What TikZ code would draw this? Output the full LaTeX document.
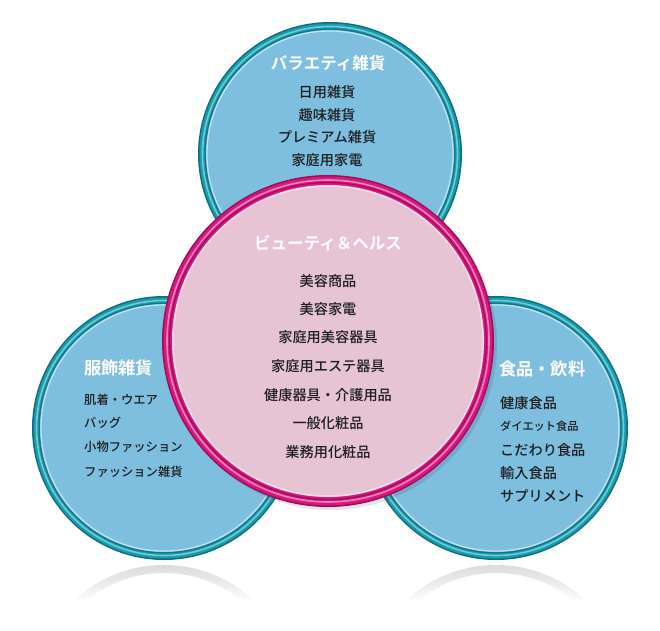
\documentclass[tikz,border=0pt]{standalone}
\usepackage{fontspec}
\newfontfamily\jp{Noto Sans CJK JP Medium}
\newfontfamily\jpb{Noto Sans CJK JP Bold}
\definecolor{tealdark}{HTML}{0D6F7E}
\definecolor{tealmid}{HTML}{1B9AAC}
\definecolor{teallight}{HTML}{6BCBD8}
\definecolor{bluefill}{HTML}{7EBFE0}
\definecolor{pinkdark}{HTML}{9E0C57}
\definecolor{pinkmid}{HTML}{D2197F}
\definecolor{pinklight}{HTML}{F27DB8}
\definecolor{pinkfill}{HTML}{E7C4D4}
\definecolor{itemtext}{HTML}{1E1E1E}
\tikzset{
  titletext/.style={font=\jpb\fontsize{16.5}{19}\selectfont, text=white, inner sep=0pt},
  bigtitle/.style={font=\jpb\fontsize{17.2}{20}\selectfont, text=white, inner sep=0pt},
  itemtext/.style={font=\jp\fontsize{14.2}{17}\selectfont, text=itemtext, inner sep=0pt},
  leftitem/.style={font=\jp\fontsize{12.3}{15}\selectfont, text=itemtext, inner sep=0pt},
  smallitem/.style={font=\jp\fontsize{11.2}{14}\selectfont, text=itemtext, inner sep=0pt},
  pics/tealdisc/.style={code={
    \fill[tealdark] (0,0) circle (132pt);
    \fill[tealmid] (0,0) circle (130.5pt);
    \draw[teallight, line width=1.6pt] (0,0) circle (127.5pt);
    \fill[tealdark!80!tealmid] (0,0) circle (125.5pt);
    \fill[bluefill] (0,0) circle (124pt);
    \draw[white!55!bluefill, line width=1.2pt] (0,0) circle (123pt);
  }},
  pics/pinkdisc/.style={code={
    \fill[pinkdark] (0,0) circle (166pt);
    \fill[pinkmid] (0,0) circle (164.5pt);
    \draw[pinklight, line width=1.6pt] (0,0) circle (161pt);
    \fill[pinkdark] (0,0) circle (159pt);
    \fill[pinkmid] (0,0) circle (157.8pt);
    \fill[pinkfill] (0,0) circle (156pt);
    \draw[white!50!pinkfill, line width=1.2pt] (0,0) circle (155pt);
  }}
}
\begin{document}
\begin{tikzpicture}[x=1pt,y=-1pt]
\useasboundingbox (0,0) rectangle (660,630);
\fill[white] (0,0) rectangle (660,630);
% reflections
\foreach \cx in {164,496} {
  \begin{scope}[even odd rule]
    \clip (\cx,697) circle (132pt) (\cx,697) circle (124pt);
    \shade[top color=gray!30, bottom color=white] (\cx-140,563) rectangle (\cx+140,602);
  \end{scope}
}
% discs
\pic at (330,154) {tealdisc};
\pic at (164,428) {tealdisc};
\pic at (496,428) {tealdisc};
\fill[black, opacity=0.10] (331,344) circle (166pt);
\pic at (328,341) {pinkdisc};

% top circle texts
\node[titletext] (vtitle) at (328,63) {バラエティ雑貨};
\node[itemtext] (v1) at (327,92) {日用雑貨};
\node[itemtext] (v2) at (327,115) {趣味雑貨};
\node[itemtext] (v3) at (327,137) {プレミアム雑貨};
\node[itemtext] (v4) at (327,160) {家庭用家電};

% center circle texts
\node[titletext] (btitle) at (328,243) {ビューティ＆ヘルス};
\node[itemtext] (b1) at (328,281) {美容商品};
\node[itemtext] (b2) at (328,309) {美容家電};
\node[itemtext] (b3) at (328,337) {家庭用美容器具};
\node[itemtext] (b4) at (328,366) {家庭用エステ器具};
\node[itemtext] (b5) at (328,395) {健康器具・介護用品};
\node[itemtext] (b6) at (328,423) {一般化粧品};
\node[itemtext] (b7) at (328,452) {業務用化粧品};

% left circle texts
\node[bigtitle, anchor=west] (ftitle) at (84,368) {服飾雑貨};
\node[leftitem, anchor=west] (f1) at (84,400) {肌着・ウエア};
\node[leftitem, anchor=west] (f2) at (84,423) {バッグ};
\node[leftitem, anchor=west] (f3) at (84,447) {小物ファッション};
\node[leftitem, anchor=west] (f4) at (84,472) {ファッション雑貨};

% right circle texts
\node[bigtitle, anchor=west] (ktitle) at (499,369) {食品・飲料};
\node[itemtext, anchor=west] (k1) at (500,403) {健康食品};
\node[smallitem, anchor=west] (k2) at (500,426) {ダイエット食品};
\node[itemtext, anchor=west] (k3) at (500,450) {こだわり食品};
\node[itemtext, anchor=west] (k4) at (500,473) {輸入食品};
\node[itemtext, anchor=west] (k5) at (500,496) {サプリメント};
\end{tikzpicture}
\end{document}
